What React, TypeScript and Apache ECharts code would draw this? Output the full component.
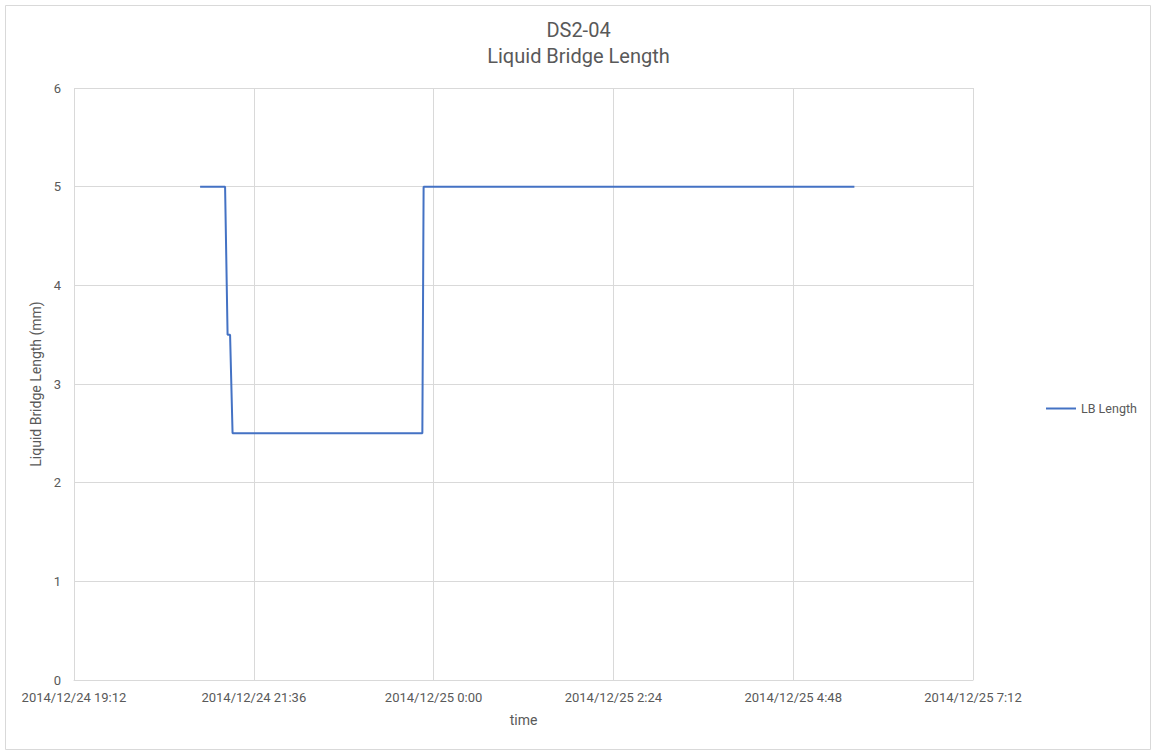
import React, { useEffect, useRef } from "react";
import * as echarts from "echarts";

// Data
const seriesName = "LB Length";
const times = [
  "2014/12/24 20:53",
  "2014/12/24 21:13",
  "2014/12/24 21:15",
  "2014/12/24 21:17",
  "2014/12/24 21:19",
  "2014/12/24 23:51",
  "2014/12/24 23:52",
  "2014/12/25 5:37",
];
const lengths = [5, 5, 3.5, 3.5, 2.5, 2.5, 5, 5];

const chartTitle = "DS2-04";
const chartSubtitle = "Liquid Bridge Length";
const xAxisName = "time";
const yAxisName = "Liquid Bridge Length (mm)";

// x axis: minutes since 2014/12/24 00:00
const xMinLabel = "2014/12/24 19:12";
const xMaxLabel = "2014/12/25 7:12";
const xStepMinutes = 144;
const yMin = 0;
const yMax = 6;
const yStep = 1;

function toMinutes(s: string): number {
  const [date, time] = s.split(" ");
  const [, , d] = date.split("/").map(Number);
  const [h, m] = time.split(":").map(Number);
  return (d - 24) * 1440 + h * 60 + m;
}

function fmt(min: number): string {
  const day = 24 + Math.floor(min / 1440);
  const rem = ((min % 1440) + 1440) % 1440;
  const h = Math.floor(rem / 60);
  const m = Math.round(rem % 60);
  return `2014/12/${day} ${h}:${m < 10 ? "0" + m : m}`;
}

const FONT = "Roboto, 'Open Sans', sans-serif";
const TXT = "#595959";
const GRID = "#d9d9d9";
const LINE = "#4472C4";

export default function App() {
  const ref = useRef<HTMLDivElement>(null);
  useEffect(() => {
    if (!ref.current) return;
    const chart = echarts.init(ref.current, null, { renderer: "svg" });
    const data = times.map((t, i) => [toMinutes(t), lengths[i]]);
    chart.setOption({
      animation: false,
      backgroundColor: "#ffffff",
      textStyle: { fontFamily: FONT },
      title: {
        text: chartTitle + "\n" + chartSubtitle,
        left: "center",
        top: 17,
        padding: 0,
        textStyle: {
          fontFamily: FONT,
          fontSize: 20,
          fontWeight: "normal",
          color: TXT,
          lineHeight: 26,
        },
      },
      legend: {
        left: 1046,
        top: 402,
        itemWidth: 30,
        itemHeight: 2,
        itemGap: 10,
        padding: 0,
        icon: "rect",
        textStyle: { fontFamily: FONT, fontSize: 12.5, color: TXT, padding: [0, 0, 0, 0] },
        data: [{ name: seriesName, icon: "rect", itemStyle: { color: LINE } }],
      },
      grid: { left: 74, right: 184, top: 88, bottom: 76, containLabel: false },
      xAxis: {
        type: "value",
        min: toMinutes(xMinLabel),
        max: toMinutes(xMaxLabel),
        interval: xStepMinutes,
        name: xAxisName,
        nameLocation: "middle",
        nameGap: 33,
        nameTextStyle: { fontFamily: FONT, fontSize: 14, color: TXT },
        axisLine: { show: true, lineStyle: { color: GRID, width: 1 } },
        axisTick: { show: false },
        axisLabel: {
          fontFamily: FONT,
          fontSize: 13,
          color: TXT,
          margin: 11,
          formatter: (v: number) => fmt(v),
        },
        splitLine: { show: true, lineStyle: { color: GRID, width: 1 } },
      },
      yAxis: {
        type: "value",
        min: yMin,
        max: yMax,
        interval: yStep,
        name: yAxisName,
        nameLocation: "middle",
        nameGap: 30,
        nameTextStyle: { fontFamily: FONT, fontSize: 14, color: TXT },
        axisLine: { show: false },
        axisTick: { show: false },
        axisLabel: { fontFamily: FONT, fontSize: 13, color: TXT, margin: 13 },
        splitLine: { show: true, lineStyle: { color: GRID, width: 1 } },
      },
      graphic: [
        {
          type: "rect",
          shape: { x: 5.5, y: 5.5, width: 1145, height: 744 },
          style: { fill: "none", stroke: GRID, lineWidth: 1 },
          silent: true,
        },
      ],
      series: [
        {
          name: seriesName,
          type: "line",
          data,
          showSymbol: false,
          symbol: "none",
          lineStyle: { color: LINE, width: 2 },
          itemStyle: { color: LINE },
        },
      ],
    });
    return () => chart.dispose();
  }, []);
  return (
    <div
      ref={ref}
      style={{ position: "absolute", left: 0, top: 0, width: 1157, height: 756 }}
    />
  );
}
